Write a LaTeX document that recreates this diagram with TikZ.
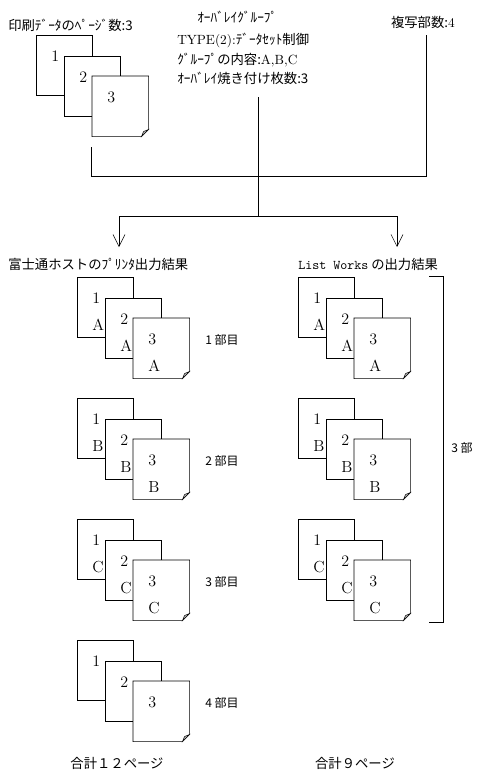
\documentclass[tikz,border=0pt]{standalone}
\usepackage{fontspec}
\newfontfamily\jp{Noto Sans CJK JP}
\usetikzlibrary{calc, arrows.meta}
\tikzset{
  line width=0.7pt,
  font=\fontsize{10}{12}\selectfont,
  % Set arrowhead
  >={Straight Barb[length=9pt, width=9pt]},
  % Printed sheet
  sheet/.style={draw, fill=white, anchor=north west, minimum width=42pt,
    minimum height=45pt, inner sep=0pt},
  % Last sheet, its outline with the folded corner is drawn by hand
  lastsheet/.style={sheet, draw=none},
  % Text printed on a sheet
  sheettext/.style={anchor=north west, inner sep=0pt, align=left,
    font=\fontsize{12}{20}\selectfont},
  % Japanese label
  jlabel/.style={inner sep=0pt, font=\jp\fontsize{10}{12}\selectfont},
  % Copy number
  copyno/.style={inner sep=0pt, font=\jp\fontsize{9}{11}\selectfont},
}
% three sheets: name, x, y, second text line
\newcommand{\sheetstack}[4]{
  \node[sheet] (#1a) at (#2,#3) {};
  \node[sheettext] (#1at) at ($(#1a.north west)+(15,16)$) {1#4};
  \node[sheet] (#1b) at ($(#1a.north west)+(28,21)$) {};
  \node[sheettext] (#1bt) at ($(#1b.north west)+(15,16)$) {2#4};
  \node[lastsheet] (#1c) at ($(#1a.north west)+(56,41)$) {};
  \draw (#1c.south west) -- (#1c.north west) -- (#1c.north east)
    -- ($(#1c.south east)+(0,-7)$) -- ($(#1c.south east)+(-7,0)$) -- cycle;
  \filldraw[fill=gray!50, line width=0.4pt] ($(#1c.south east)+(0,-7)$)
    -- ($(#1c.south east)+(-7,0)$) -- ($(#1c.south east)+(-5,-5)$) -- cycle;
  \node[sheettext] (#1ct) at ($(#1c.north west)+(15,16)$) {3#4};
}

\begin{document}
\begin{tikzpicture}[x=0.75pt, y=-0.75pt]
  \useasboundingbox (0,0) rectangle (477,779);

  % input data
  \node[jlabel, anchor=west] (pages) at (8,25) {印刷ﾃﾞｰﾀのﾍﾟｰｼﾞ数:3};
  \sheetstack{in}{36}{35}{}
  \node[jlabel, anchor=west] (ovl) at (197,17) {ｵｰﾊﾞﾚｲｸﾞﾙｰﾌﾟ};
  \node[jlabel, anchor=west] (ovltype) at (177,40)
    {{\rmfamily TYPE(2):}ﾃﾞｰﾀｾｯﾄ制御};
  \node[jlabel, anchor=west] (ovlgrp) at (177,60)
    {ｸﾞﾙｰﾌﾟの内容:{\rmfamily A,B,C}};
  \node[jlabel, anchor=west] (ovlnum) at (177,78) {ｵｰﾊﾞﾚｲ焼き付け枚数:3};
  \node[jlabel, anchor=east] (copies) at (455,22) {複写部数:{\rmfamily 4}};

  % connectors
  \coordinate (srcl) at (91,147);
  \coordinate (srcm) at (258,97);
  \coordinate (srcr) at (426,35);
  \coordinate (join) at (258,176);
  \coordinate (fork) at (258,216);
  \coordinate (outl) at (119,247);
  \coordinate (outr) at (397,247);
  \draw (srcl) |- (srcr |- join) -- (srcr);
  \draw (srcm) -- (fork);
  \draw[->] (fork) -| (outl);
  \draw[->] (fork) -| (outr);

  % results
  \node[jlabel, anchor=west] (host) at (8,264) {富士通ホストのﾌﾟﾘﾝﾀ出力結果};
  \node[jlabel, anchor=west] (lw) at (298,264) {{\ttfamily List Works} の出力結果};
  \foreach \y/\l/\n in {277/A/1, 398/B/2, 519/C/3}{
    \sheetstack{h\n}{77}{\y}{\\\l}
    \node[copyno] (h\n-no) at (222,\y+63) {\n\ 部目};
    \sheetstack{w\n}{298}{\y}{\\\l}
  }
  \sheetstack{h4}{77}{640}{}
  \node[copyno] (h4-no) at (222,703) {4 部目};

  % bracket over the List Works copies
  \coordinate (brt) at (429,276);
  \coordinate (brb) at (429,622);
  \draw (brt) -- ++(14,0) |- (brb);
  \node[copyno, anchor=west] (w-no) at (451,448) {3 部};

  % totals
  \node[jlabel] (htotal) at (117,763) {合計１２ページ};
  \node[jlabel] (wtotal) at (355,763) {合計９ページ};
\end{tikzpicture}
\end{document}
